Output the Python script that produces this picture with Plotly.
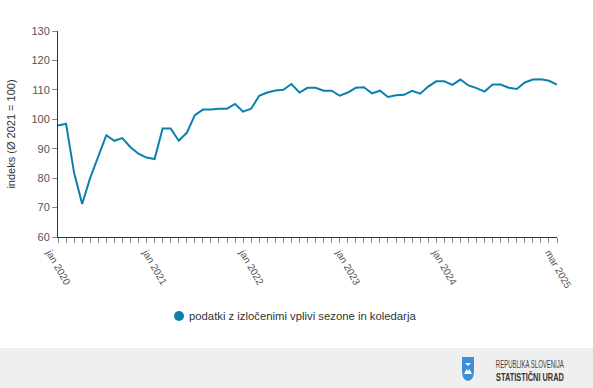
import plotly.graph_objects as go

months = ["jan", "feb", "mar", "apr", "maj", "jun", "jul", "avg", "sep", "okt", "nov", "dec"]
periods = [f"{months[i % 12]} {2020 + i // 12}" for i in range(63)]

values = [
    97.9, 98.5, 81.8, 71.2, 80.1, 87.7, 94.6, 92.7, 93.6, 90.5, 88.3, 87.0,
    86.5, 96.9, 96.9, 92.7, 95.4, 101.4, 103.3, 103.3, 103.6, 103.6, 105.2, 102.6,
    103.6, 108.0, 109.1, 109.8, 110.0, 112.0, 109.1, 110.7, 110.7, 109.7, 109.7, 108.0,
    109.1, 110.7, 110.9, 108.8, 109.7, 107.6, 108.2, 108.3, 109.7, 108.7, 111.1, 112.9,
    112.9, 111.7, 113.5, 111.5, 110.6, 109.4, 111.8, 111.8, 110.7, 110.3, 112.5, 113.5,
    113.6, 113.1, 111.8,
]
label_periods = ["jan 2020", "jan 2021", "jan 2022", "jan 2023", "jan 2024", "mar 2025"]
series_name = "podatki z izločenimi vplivi sezone in koledarja"
y_title = "indeks (Ø 2021 = 100)"
footer_lines = ["REPUBLIKA SLOVENIJA", "STATISTIČNI URAD"]

idx = list(range(len(periods)))
ticktext = [p if p in label_periods else "" for p in periods]

color = "#0b80ad"
font = "Liberation Sans, Arial, sans-serif"

fig = go.Figure()
fig.add_trace(go.Scatter(x=idx, y=values, mode="lines", line=dict(color=color, width=2),
                         showlegend=False, hoverinfo="skip", name=series_name))

W, H = 593, 388
L, R, T, B = 58, 557, 31, 237
def px(xp):
    return (xp - L) / (R - L)
def py(yp):
    return (B - yp) / (B - T)

shapes = [
    dict(type="rect", xref="paper", yref="paper", x0=px(0), x1=px(W), y0=py(H), y1=py(348),
         fillcolor="#efefef", line=dict(width=0), layer="below"),
    # legend marker
    dict(type="circle", xref="paper", yref="paper", x0=px(174), x1=px(184), y0=py(321), y1=py(311),
         fillcolor=color, line=dict(width=0)),
    # logo
    dict(type="path", xref="paper", yref="paper",
         path=(f"M {px(462)} {py(357)} L {px(474)} {py(357)} L {px(474)} {py(371)} "
               f"Q {px(474)} {py(380)} {px(468)} {py(381)} Q {px(462)} {py(380)} {px(462)} {py(371)} Z"),
         fillcolor="#3a8fd8", line=dict(width=0)),
    dict(type="path", xref="paper", yref="paper",
         path=(f"M {px(464)} {py(374)} L {px(466.5)} {py(369)} L {px(468)} {py(371)} "
               f"L {px(469.5)} {py(369)} L {px(472)} {py(374)} Z"),
         fillcolor="#ffffff", line=dict(width=0)),
    dict(type="path", xref="paper", yref="paper",
         path=(f"M {px(465)} {py(363)} L {px(471)} {py(363)} L {px(468)} {py(366)} Z"),
         fillcolor="#ffffff", line=dict(width=0)),
]

annotations = [
    dict(text=series_name, xref="paper", yref="paper", x=px(187), y=py(316),
         xanchor="left", yanchor="middle", showarrow=False,
         font=dict(family=font, size=11.3, color="#333")),
    dict(text=footer_lines[0], xref="paper", yref="paper", x=px(530), y=py(364),
         xanchor="center", yanchor="middle", showarrow=False,
         font=dict(family=font, size=10, color="#444")),
    dict(text=f"<b>{footer_lines[1]}</b>", xref="paper", yref="paper", x=px(530), y=py(377),
         xanchor="center", yanchor="middle", showarrow=False,
         font=dict(family=font, size=10, color="#333")),
]

fig.update_layout(
    width=W, height=H,
    margin=dict(l=L, r=W - R, t=T, b=H - B, autoexpand=False),
    paper_bgcolor="white", plot_bgcolor="white",
    font=dict(family=font, size=11, color="#555"),
    showlegend=False,
    shapes=shapes, annotations=annotations,
)
fig.update_xaxes(
    range=[0, len(periods) - 1], tickmode="array", tickvals=idx, ticktext=ticktext,
    tickangle=60, ticks="outside", ticklen=5, tickcolor="#888", tickwidth=1,
    showline=True, linecolor="#333", linewidth=1, showgrid=False, zeroline=False,
    tickfont=dict(family=font, size=10, color="#555"), automargin=False,
    ticklabelshift=-8,
)
fig.update_yaxes(
    range=[60, 130], dtick=10, ticks="outside", ticklen=5, tickcolor="#888",
    showline=True, linecolor="#333", linewidth=1, showgrid=False, zeroline=False,
    tickfont=dict(family=font, size=11, color="#555"), automargin=False,
    title=dict(text=y_title, font=dict(family=font, size=11, color="#333"), standoff=13),
)

post = """
document.body.style.margin='0';
document.body.style.overflow='hidden';
var gs = document.querySelectorAll('g.annotation');
gs.forEach(function(g){
  var t = g.querySelector('text.annotation-text');
  if (!t) return;
  var s = t.textContent;
  if (s.indexOf('REPUBLIKA') === 0 || s.indexOf('STATISTI') === 0) {
    var bb = g.getBBox();
    var cx = bb.x + bb.width / 2;
    var k = 68 / t.getComputedTextLength();
    g.setAttribute('transform', 'translate(' + cx + ',0) scale(' + k + ',1) translate(' + (-cx) + ',0)');
  }
});
"""
fig.write_html("out.html", config={"displayModeBar": False}, post_script=post)
